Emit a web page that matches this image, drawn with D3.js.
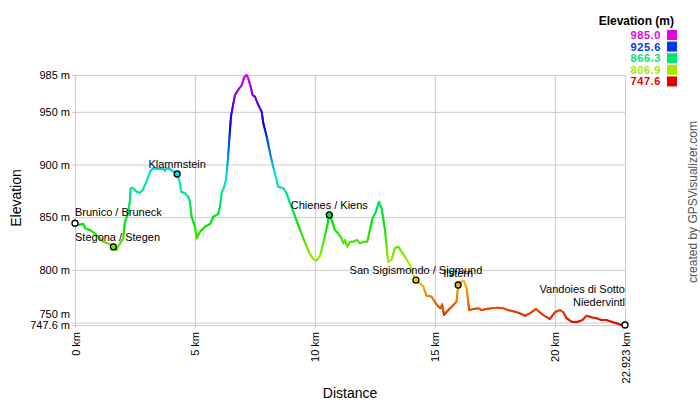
<!DOCTYPE html>
<html><head><meta charset="utf-8">
<script src="https://cdn.jsdelivr.net/npm/d3@7"></script>
<style>
body{margin:0;background:#fff;}
text{font-family:"Liberation Sans",Arial,sans-serif;}
</style></head><body>
<svg id="chart" width="700" height="400"></svg>
<script>
// ---------- data ----------
const distanceKm = [0, 0.10, 0.35, 0.42, 0.63, 0.90, 1.18, 1.46, 1.60, 1.74,
  1.80, 2.01, 2.08, 2.22, 2.29, 2.32, 2.43, 2.57, 2.71, 2.82,
  2.92, 3.05, 3.13, 3.26, 3.54, 3.68, 3.75, 3.82, 3.96, 4.17,
  4.26, 4.38, 4.42, 4.58, 4.72, 4.79, 4.86, 5.00, 5.07, 5.21,
  5.42, 5.63, 5.76, 5.97, 6.04, 6.11, 6.22, 6.29, 6.36, 6.42,
  6.50, 6.60, 6.67, 6.80, 6.95, 7.05, 7.15, 7.22, 7.32, 7.40,
  7.50, 7.64, 7.78, 7.85, 7.99, 8.13, 8.26, 8.40, 8.47, 8.68,
  8.82, 8.96, 9.10, 9.24, 9.38, 9.58, 9.79, 9.93, 10.07, 10.21,
  10.35, 10.49, 10.60, 10.70, 10.83, 10.97, 11.11, 11.18, 11.25, 11.35,
  11.46, 11.60, 11.74, 11.88, 12.04, 12.18, 12.29, 12.40, 12.54, 12.67,
  12.78, 12.92, 13.05, 13.19, 13.33, 13.47, 13.61, 13.75, 13.96, 14.13,
  14.21, 14.38, 14.52, 14.65, 14.86, 15.00, 15.14, 15.24, 15.30, 15.38,
  15.49, 15.70, 15.90, 15.97, 16.04, 16.21, 16.32, 16.43, 16.60, 16.80,
  16.95, 17.15, 17.36, 17.57, 17.85, 18.05, 18.33, 18.54, 18.75, 18.96,
  19.21, 19.51, 19.79, 20.00, 20.21, 20.35, 20.49, 20.70, 20.90, 21.15,
  21.32, 21.53, 21.74, 21.95, 22.15, 22.36, 22.57, 22.78, 22.923];
const elevationM = [844.2, 842.6, 843.5, 839.4, 837.8, 833.1, 826.7, 824.2, 821.7, 818.8,
  822.0, 829.9, 845.7, 853.7, 866.3, 877.4, 877.4, 874.2, 873.2, 875.8,
  880.6, 888.4, 893.2, 896.4, 895.7, 895.7, 894.1, 896.4, 895.5, 892.2,
  891.0, 882.2, 874.2, 872.7, 869.4, 864.7, 850.4, 841.0, 829.9, 836.2,
  841.0, 843.5, 850.4, 853.0, 859.9, 872.7, 878.9, 885.3, 901.2, 920.2,
  945.4, 958.1, 966.0, 970.8, 975.5, 982.8, 985.0, 981.9, 973.9, 966.0,
  964.4, 956.5, 950.2, 939.1, 926.4, 910.7, 897.9, 885.3, 878.9, 877.4,
  872.7, 863.2, 855.2, 846.4, 837.8, 826.4, 815.0, 810.3, 808.9, 813.1,
  825.5, 839.7, 852.1, 847.3, 837.8, 834.7, 829.9, 825.2, 828.3, 822.0,
  826.7, 826.7, 828.3, 825.2, 826.7, 826.7, 837.8, 848.9, 855.2, 864.7,
  858.4, 837.8, 807.7, 809.3, 820.4, 822.0, 817.2, 812.5, 804.6, 793.5,
  790.3, 787.2, 784.0, 775.4, 774.5, 769.7, 765.0, 763.5, 767.3, 757.1,
  760.2, 765.0, 769.7, 785.6, 788.7, 789.4, 782.5, 761.8, 762.8, 763.5,
  761.8, 762.8, 763.5, 764.0, 763.5, 761.8, 760.2, 758.7, 756.4, 758.7,
  762.8, 757.1, 753.3, 759.7, 761.8, 759.7, 754.0, 750.7, 750.2, 752.3,
  756.4, 754.9, 754.0, 752.3, 752.3, 750.7, 749.2, 747.6, 747.6];

const waypointNames = ["Brunico / Bruneck", "Stegona / Stegen", "Klammstein", "Chienes / Kiens",
  "San Sigismondo / Sigmund", "Ilstern", "Vandoies di Sotto\nNiedervintl"];
const waypointKm = [0, 1.60, 4.26, 10.60, 14.21, 15.97, 22.923];
const waypointM = [844.2, 821.7, 891.0, 852.1, 790.3, 785.6, 747.6];

const yTickValues = [985, 950, 900, 850, 800, 750, 747.6];
const yTickLabels = ["985 m", "950 m", "900 m", "850 m", "800 m", "750 m", "747.6 m"];
const xTickValues = [0, 5, 10, 15, 20, 22.923];
const xTickLabels = ["0 km", "5 km", "10 km", "15 km", "20 km", "22.923 km"];

const legendTitle = "Elevation (m)";
const legendValues = [985.0, 925.6, 866.3, 806.9, 747.6];
const legendLabels = ["985.0", "925.6", "866.3", "806.9", "747.6"];

const yTitle = "Elevation";
const xTitle = "Distance";
const creditText = "created by GPSVisualizer.com";

// ---------- layout / style ----------
const plot = {left: 75, right: 625, top: 75, bottom: 325};
const labelDy = [-7, -6, -6, -6, -6, -8, -19];
const gridColor = "#cccccc";

const svg = d3.select("#chart");
const x = d3.scaleLinear().domain([0, 22.923]).range([plot.left, plot.right]);
const y = d3.scaleLinear().domain([747.6, 985]).range([plot.bottom, plot.top]);
const hue = d3.scaleLinear().domain([747.6, 985]).range([0, 300]).clamp(true);
const colorOf = m => d3.hsl(hue(m), 1, 0.45).formatHex();

// y axis with gridlines
const yAxis = svg.append("g").attr("transform", `translate(${plot.left},0)`)
  .call(d3.axisLeft(y).tickValues(yTickValues).tickSize(-(plot.right - plot.left))
    .tickPadding(5).tickFormat((d, i) => yTickLabels[i]));
yAxis.select(".domain").remove();
yAxis.selectAll(".tick line").attr("stroke", gridColor).attr("x1", -3);
yAxis.selectAll(".tick text").attr("font-size", 11).attr("fill", "#000")
  .attr("font-family", '"Liberation Sans",Arial,sans-serif')
  .attr("x", -5);
// nudge labels that would collide with the bottom label
const bottomPos = y(747.6);
yAxis.selectAll(".tick").each(function(d) {
  const p = y(d);
  if (d !== 747.6 && bottomPos - p < 11) {
    d3.select(this).select("text").attr("dy", "0.32em").attr("y", -(11 - (bottomPos - p)));
  }
});

// x axis with gridlines
const xAxis = svg.append("g").attr("transform", `translate(0,${plot.bottom})`)
  .call(d3.axisBottom(x).tickValues(xTickValues).tickSize(-(plot.bottom - plot.top))
    .tickFormat((d, i) => xTickLabels[i]));
xAxis.select(".domain").remove();
xAxis.selectAll(".tick line").attr("stroke", gridColor).attr("y1", 3);
xAxis.selectAll(".tick text").attr("font-size", 11).attr("fill", "#000")
  .attr("font-family", '"Liberation Sans",Arial,sans-serif')
  .attr("transform", "rotate(-90)").attr("text-anchor", "end")
  .attr("x", -7).attr("y", 4).attr("dy", "0");

// profile line, coloured by elevation
const lineG = svg.append("g");
for (let i = 0; i < distanceKm.length - 1; i++) {
  const x0 = x(distanceKm[i]), y0 = y(elevationM[i]);
  const x1 = x(distanceKm[i + 1]), y1 = y(elevationM[i + 1]);
  const n = Math.max(1, Math.ceil(Math.hypot(x1 - x0, y1 - y0) / 2));
  for (let k = 0; k < n; k++) {
    const t0 = k / n, t1 = (k + 1) / n;
    const mMid = y.invert(y0 + (y1 - y0) * (t0 + t1) / 2);
    lineG.append("line")
      .attr("x1", x0 + (x1 - x0) * t0).attr("y1", y0 + (y1 - y0) * t0)
      .attr("x2", x0 + (x1 - x0) * t1).attr("y2", y0 + (y1 - y0) * t1)
      .attr("stroke", colorOf(mMid)).attr("stroke-width", 2)
      .attr("stroke-linecap", "round");
  }
}

// waypoints
const wpG = svg.append("g");
const lastWp = waypointNames.length - 1;
waypointNames.forEach((name, i) => {
  const px = x(waypointKm[i]), py = y(waypointM[i]);
  const isEnd = (i === 0 || i === lastWp);
  wpG.append("circle").attr("cx", px).attr("cy", py).attr("r", 3)
    .attr("fill", isEnd ? "#ffffff" : colorOf(waypointM[i]))
    .attr("stroke", "#000").attr("stroke-width", 1.3);
});
waypointNames.forEach((name, i) => {
  const px = x(waypointKm[i]), py = y(waypointM[i]);
  const lines = name.split("\n");
  lines.forEach((ln, j) => {
    const t = wpG.append("text").text(ln).attr("font-size", 11).attr("fill", "#000")
      .attr("y", py + labelDy[i] - (lines.length - 1 - j) * 13);
    const w = t.node().getComputedTextLength();
    let left = px - w / 2;
    if (left < plot.left) left = plot.left;
    if (left + w > plot.right) left = plot.right - w;
    t.attr("x", left);
  });
});

// axis titles
svg.append("text").text(yTitle).attr("font-size", 14).attr("text-anchor", "middle")
  .attr("transform", "translate(21,198) rotate(-90)");
svg.append("text").text(xTitle).attr("font-size", 14).attr("text-anchor", "middle")
  .attr("x", 350).attr("y", 398);
svg.append("text").text(creditText).attr("font-size", 12).attr("fill", "#555")
  .attr("text-anchor", "middle").attr("transform", "translate(697,202) rotate(-90)");

// legend
const lg = svg.append("g");
lg.append("text").text(legendTitle).attr("font-size", 12).attr("font-weight", "bold")
  .attr("text-anchor", "end").attr("x", 674).attr("y", 25);
legendValues.forEach((v, i) => {
  const cy = 35 + i * 11.6;
  lg.append("text").text(legendLabels[i]).attr("font-size", 11).attr("font-weight", "bold")
    .attr("letter-spacing", 0.6)
    .attr("fill", colorOf(v)).attr("text-anchor", "end").attr("x", 661).attr("y", cy + 4);
  lg.append("rect").attr("x", 667).attr("y", cy - 5).attr("width", 10).attr("height", 10)
    .attr("fill", colorOf(v));
});
</script>
</body></html>
